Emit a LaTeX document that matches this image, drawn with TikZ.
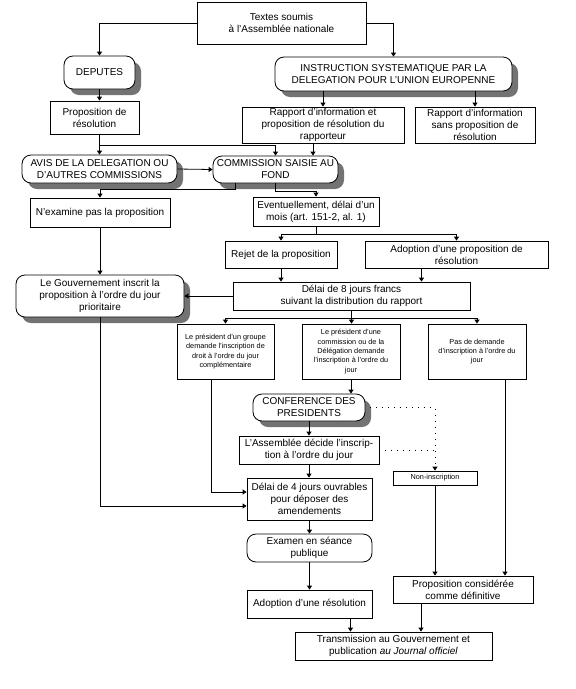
\documentclass[tikz,border=0pt]{standalone}
\usepackage{fontspec}
\setmainfont{Liberation Sans}
\usetikzlibrary{arrows.meta,shadows}

\begin{document}
\begin{tikzpicture}[
  x=1pt, y=-1pt,
  box/.style={draw, line width=0.8pt, fill=white, align=center, inner sep=1pt, font=\fontsize{10}{12}\selectfont},
  rbox/.style={box, rounded corners=9pt},
  shbox/.style={rbox, drop shadow={shadow xshift=6pt, shadow yshift=-6pt, fill=black!55, opacity=1}},
  tinybox/.style={box, font=\fontsize{7.3}{9.3}\selectfont},
  arr/.style={-{Triangle[length=4pt,width=5pt]}, line width=0.8pt},
  dotarr/.style={arr, dash pattern=on 1pt off 5pt}
]
  \useasboundingbox (0,0) rectangle (576,689);

  \node[box, minimum width=169pt, minimum height=42pt] (texts) at (281.5,23) {Textes soumis\\à l'Assemblée nationale};
  \node[shbox, minimum width=71pt, minimum height=33pt] (deputes) at (99.5,72.5) {DEPUTES};
  \node[shbox, minimum width=237pt, minimum height=34pt] (instr) at (393.5,74) {INSTRUCTION SYSTEMATIQUE PAR LA\\DELEGATION POUR L'UNION EUROPENNE};
  \node[box, minimum width=89pt, minimum height=33pt] (propres) at (94.5,117.5) {Proposition de\\résolution};
  \node[box, minimum width=162pt, minimum height=36pt] (rapport1) at (323,125) {Rapport d'information et\\proposition de résolution du\\rapporteur};
  \node[box, minimum width=120pt, minimum height=36pt] (rapport2) at (475,125) {Rapport d'information\\sans proposition de\\résolution};
  \node[shbox, minimum width=155pt, minimum height=28pt] (avis) at (99.5,169) {AVIS DE LA DELEGATION OU\\D'AUTRES COMMISSIONS};
  \node[shbox, minimum width=125pt, minimum height=27pt] (commission) at (275.5,169.5) {COMMISSION SAISIE AU\\FOND};
  \node[box, minimum width=140pt, minimum height=29pt] (nexamine) at (100,212.5) {N'examine pas la proposition};
  \node[box, minimum width=126pt, minimum height=29pt] (eventuel) at (316,211.5) {Eventuellement, délai d'un\\mois (art. 151-2, al. 1)};
  \node[box, minimum width=112pt, minimum height=27pt] (rejet) at (281,254.5) {Rejet de la proposition};
  \node[box, minimum width=183pt, minimum height=27pt] (adoptprop) at (456.5,254.5) {Adoption d'une proposition de\\résolution};
  \node[box, minimum width=237pt, minimum height=28pt] (delai8) at (351.5,296) {Délai de 8 jours francs\\suivant la distribution du rapport};
  \node[shbox, minimum width=168pt, minimum height=42pt] (gouv) at (100,296) {Le Gouvernement inscrit la\\proposition à l'ordre du jour\\prioritaire};
  \node[tinybox, minimum width=97pt, minimum height=55pt] (groupe) at (225.5,351.5) {Le président d'un groupe\\demande l'inscription de\\droit à l'ordre du jour\\complémentaire};
  \node[tinybox, minimum width=98pt, minimum height=55pt] (presid) at (351,351.5) {Le président d'une\\commission ou de la\\Délégation demande\\l'inscription à l'ordre du\\jour};
  \node[tinybox, minimum width=98pt, minimum height=55pt] (pasdem) at (477,351.5) {Pas de demande\\d'inscription à l'ordre du\\jour};
  \node[shbox, minimum width=112pt, minimum height=27pt] (conf) at (309,407.5) {CONFERENCE DES\\PRESIDENTS};
  \node[box, minimum width=140pt, minimum height=28pt] (assemb) at (309,450) {L'Assemblée décide l'inscrip-\\tion à l'ordre du jour};
  \node[box, minimum width=125pt, minimum height=42pt] (delai4) at (309.5,499) {Délai de 4 jours ouvrables\\pour déposer des\\amendements};
  \node[rbox, minimum width=125pt, minimum height=28pt] (examen) at (309.5,548) {Examen en séance\\publique};
  \node[box, minimum width=125pt, minimum height=28pt] (adoptres) at (309.5,604) {Adoption d'une résolution};
  \node[tinybox, minimum width=84pt, minimum height=14pt, inner sep=0pt] (noninscr) at (435,478) {Non-inscription};
  \node[box, minimum width=140pt, minimum height=27pt] (definitive) at (463,589.5) {Proposition considérée\\comme définitive};
  \node[box, minimum width=197pt, minimum height=28pt] (transm) at (393.5,646) {Transmission au Gouvernement et\\publication \textit{au Journal officiel}};

  \draw[arr] (texts.west) -| (deputes.north);
  \draw[arr] (texts.east) -| (instr.north);
  \draw[arr] (deputes.south) -- (deputes.south |- propres.north);
  \draw[arr] (instr.south -| rapport1.north) -- (rapport1.north);
  \draw[arr] (instr.south -| rapport2.north) -- (rapport2.north);
  \draw[arr] (propres.south -| avis.north) -- (avis.north);
  \draw[arr] (propres.south -| avis.north) -- ++(0,11) -| (commission.north);
  \draw[arr] ([xshift=-10pt]rapport1.south) -- ([xshift=-10pt]rapport1.south |- commission.north);
  \draw[arr] (avis.east) -- (commission.west);
  \draw[arr] ([xshift=-40pt]commission.south) -- ++(0,6) -| (nexamine.north);
  \draw[arr] (commission.south) -- ++(0,8) -| (eventuel.north);
  \draw[arr] (nexamine.south) -- (gouv.north);
  \draw (eventuel.south) -- ++(0,8) coordinate (ev);
  \draw[arr] (ev) -| (rejet.north);
  \draw[arr] (ev) -| (adoptprop.north);
  \draw[arr] (rejet.south) -- (rejet.south |- delai8.north);
  \draw[arr] ([xshift=-35pt]adoptprop.south) -- ([xshift=-35pt]adoptprop.south |- delai8.north);
  \draw[arr] (delai8.west) -- (gouv.east);
  \draw (delai8.south) -- ++(0,8) coordinate (d8);
  \draw[arr] (d8) -| (groupe.north);
  \draw[arr] (d8) -- (d8 |- presid.north);
  \draw[arr] (d8) -| (pasdem.north);
  \draw[arr] (presid.south) -- (presid.south |- conf.north);
  \draw[arr] (conf.south) -- (assemb.north);
  \draw[arr] (assemb.south) -- (assemb.south |- delai4.north);
  \draw[arr] ([xshift=-14pt]groupe.south) |- ([yshift=7pt]delai4.west);
  \draw[arr] (gouv.south) |- ([yshift=-7pt]delai4.west);
  \draw[arr] (delai4.south) -- (examen.north);
  \draw[arr] (examen.south) -- (adoptres.north);
  \draw[arr] ([xshift=41pt]adoptres.south) -- ([xshift=41pt]adoptres.south |- transm.north);
  \draw[arr] ([xshift=-42pt]definitive.south) -- ([xshift=-42pt]definitive.south |- transm.north);
  \draw[arr] (noninscr.south) -- (noninscr.south |- definitive.north);
  \draw[arr] ([xshift=28pt]pasdem.south) -- ([xshift=28pt]pasdem.south |- definitive.north);
  \draw[dotarr] ([xshift=5pt]conf.east) -| (noninscr.north);
  \draw[dash pattern=on 1pt off 5pt, line width=0.8pt] (assemb.east) -- (assemb.east -| noninscr.north);
\end{tikzpicture}
\end{document}
